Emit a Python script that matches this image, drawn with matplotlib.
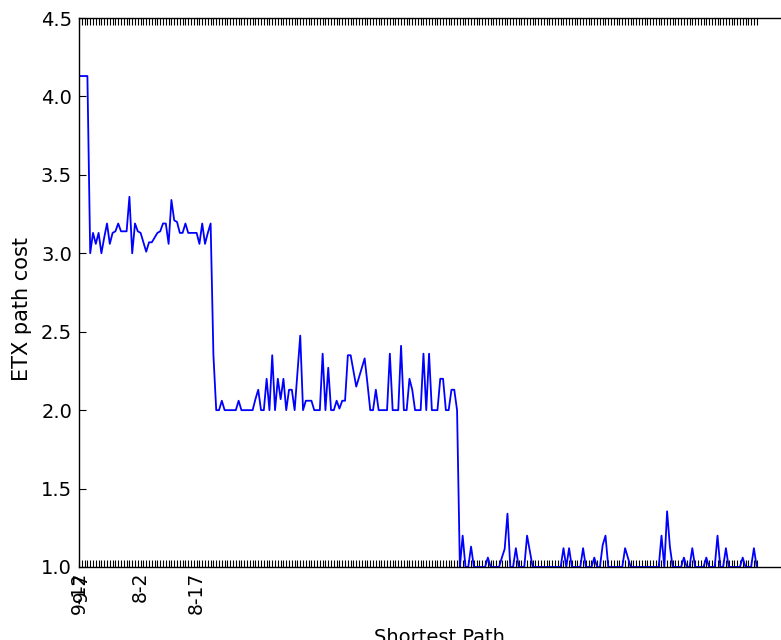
import matplotlib
matplotlib.use("Agg")
import matplotlib.pyplot as plt

# ETX path cost per path (index order along x)
etx_high = [4.13, 4.13, 4.13, 4.13]
etx_three = [3.00, 3.13, 3.06, 3.13, 3.00, 3.10, 3.19, 3.06, 3.13, 3.14,
             3.19, 3.14, 3.14, 3.14, 3.36, 3.00, 3.19, 3.14, 3.13, 3.07,
             3.01, 3.07, 3.07, 3.10, 3.13, 3.14, 3.19, 3.19, 3.06, 3.34,
             3.21, 3.20, 3.13, 3.13, 3.19, 3.13, 3.13, 3.13, 3.13, 3.06,
             3.19, 3.06, 3.13, 3.19, 2.35]
etx_two = [2.00, 2.00, 2.06, 2.00, 2.00, 2.00, 2.00, 2.00, 2.06, 2.00,
           2.00, 2.00, 2.00, 2.00, 2.07, 2.13, 2.00, 2.00, 2.20, 2.00,
           2.35, 2.00, 2.20, 2.07, 2.20, 2.00, 2.13, 2.13, 2.00, 2.24,
           2.475, 2.00, 2.06, 2.06, 2.06, 2.00, 2.00, 2.00, 2.36, 2.00,
           2.27, 2.00, 2.00, 2.06, 2.01, 2.06, 2.06, 2.35, 2.35, 2.25,
           2.15, 2.21, 2.27, 2.33, 2.17, 2.00, 2.00, 2.13, 2.00, 2.00,
           2.00, 2.00, 2.36, 2.00, 2.00, 2.00, 2.41, 2.00, 2.00, 2.20,
           2.13, 2.00, 2.00, 2.00, 2.36, 2.00, 2.36, 2.00, 2.00, 2.00,
           2.20, 2.20, 2.00, 2.00, 2.13, 2.13, 2.00]
etx_one = [1.00, 1.20, 1.00, 1.00, 1.13, 1.00, 1.00, 1.00, 1.00, 1.00,
           1.06, 1.00, 1.00, 1.00, 1.00, 1.06, 1.115, 1.34, 1.00, 1.00,
           1.12, 1.00, 1.00, 1.00, 1.20, 1.10, 1.00, 1.00, 1.00, 1.00,
           1.00, 1.00, 1.00, 1.00, 1.00, 1.00, 1.00, 1.12, 1.00, 1.12,
           1.00, 1.00, 1.00, 1.00, 1.12, 1.00, 1.00, 1.00, 1.06, 1.00,
           1.00, 1.14, 1.20, 1.00, 1.00, 1.00, 1.00, 1.00, 1.00, 1.12,
           1.06, 1.00, 1.00, 1.00, 1.00, 1.00, 1.00, 1.00, 1.00, 1.00,
           1.00, 1.00, 1.20, 1.00, 1.355, 1.13, 1.00, 1.00, 1.00, 1.00,
           1.06, 1.00, 1.00, 1.12, 1.00, 1.00, 1.00, 1.00, 1.06, 1.00,
           1.00, 1.00, 1.20, 1.00, 1.00, 1.12, 1.00, 1.00, 1.00, 1.00,
           1.00, 1.06, 1.00, 1.00, 1.00, 1.12, 1.00]
etx = etx_high + etx_three + etx_two + etx_one

# sparse path labels on the x axis
label_map = {0: "9-12", 1: "9-7", 22: "8-2", 42: "8-17"}
xlabels = [label_map.get(i, "") for i in range(len(etx))]
yticks = [1.0, 1.5, 2.0, 2.5, 3.0, 3.5, 4.0, 4.5]

fig = plt.figure(figsize=(7.81, 6.4), dpi=100)
ax = fig.add_axes([79 / 781, 73 / 640, 720 / 781, 549 / 640])
ax.plot(range(len(etx)), etx, color="#0000ff", linewidth=1.3)

ax.set_xlim(0, 257.1)
ax.set_ylim(1.0, 4.5)
ax.set_yticks(yticks)
ax.set_yticklabels([f"{v:.1f}" for v in yticks], fontsize=14)
ax.set_xticks(range(len(etx)))
ax.set_xticklabels(xlabels, rotation=90, fontsize=13.5)

ax.tick_params(axis="both", direction="in", top=True, right=True, length=5, width=0.8)
ax.tick_params(axis="x", pad=3.5)
ax.tick_params(axis="y", pad=5)

ax.set_ylabel("ETX path cost", fontsize=15)
ax.yaxis.set_label_coords(-47 / 720, 0.47)
ax.set_xlabel("Shortest Path", fontsize=14, labelpad=10)
for s in ax.spines.values():
    s.set_linewidth(1.0)

fig.savefig("out.png", dpi=100)
